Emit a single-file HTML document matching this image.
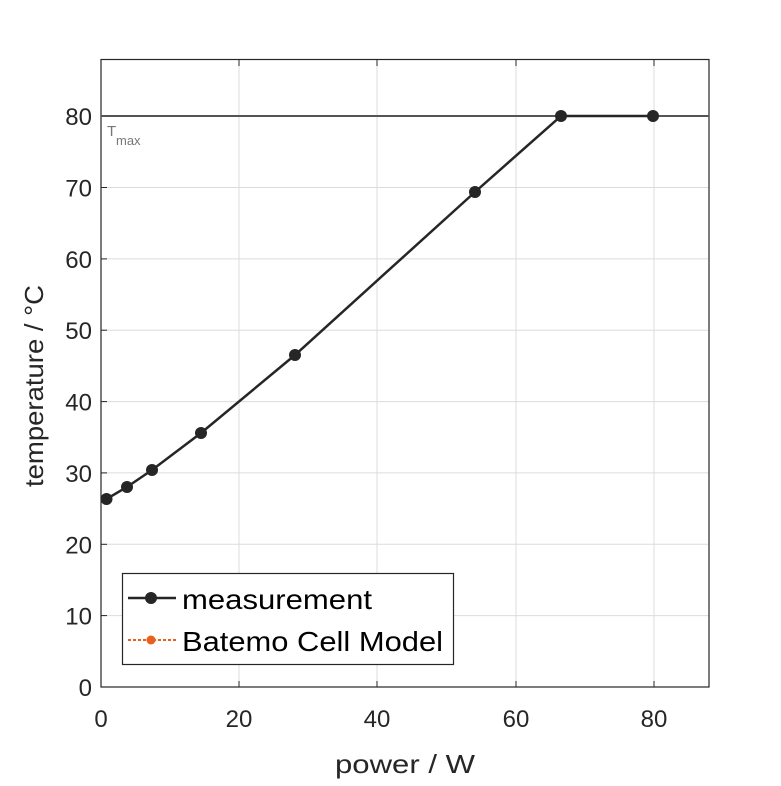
<!DOCTYPE html>
<html><head><meta charset="utf-8"><style>html,body{margin:0;padding:0;background:#fff}</style></head>
<body>
<svg width="781" height="781" viewBox="0 0 781 781" xmlns="http://www.w3.org/2000/svg" font-family="Liberation Sans, DejaVu Sans, sans-serif">
<rect width="781" height="781" fill="#fff"/>
<g stroke="#dcdcdc" stroke-width="1">
<line x1="239" y1="59" x2="239" y2="687"/><line x1="377" y1="59" x2="377" y2="687"/><line x1="516" y1="59" x2="516" y2="687"/><line x1="654" y1="59" x2="654" y2="687"/>
<line x1="101" y1="615.6" x2="709" y2="615.6"/><line x1="101" y1="544.3" x2="709" y2="544.3"/><line x1="101" y1="472.9" x2="709" y2="472.9"/><line x1="101" y1="401.6" x2="709" y2="401.6"/><line x1="101" y1="330.2" x2="709" y2="330.2"/><line x1="101" y1="258.9" x2="709" y2="258.9"/><line x1="101" y1="187.5" x2="709" y2="187.5"/>
</g>
<rect x="101" y="59.5" width="608" height="627.5" fill="none" stroke="#262626" stroke-width="1.2"/>
<g stroke="#262626" stroke-width="1">
<line x1="239" y1="687" x2="239" y2="681"/><line x1="377" y1="687" x2="377" y2="681"/><line x1="516" y1="687" x2="516" y2="681"/><line x1="654" y1="687" x2="654" y2="681"/>
<line x1="239" y1="60" x2="239" y2="66"/><line x1="377" y1="60" x2="377" y2="66"/><line x1="516" y1="60" x2="516" y2="66"/><line x1="654" y1="60" x2="654" y2="66"/>
<line x1="101" y1="615.6" x2="107" y2="615.6"/><line x1="101" y1="544.3" x2="107" y2="544.3"/><line x1="101" y1="472.9" x2="107" y2="472.9"/><line x1="101" y1="401.6" x2="107" y2="401.6"/><line x1="101" y1="330.2" x2="107" y2="330.2"/><line x1="101" y1="258.9" x2="107" y2="258.9"/><line x1="101" y1="187.5" x2="107" y2="187.5"/>
</g>
<line x1="101" y1="116" x2="709" y2="116" stroke="#555" stroke-width="2"/>
<text x="107" y="136" font-size="15" fill="#777">T</text><text x="116" y="145" font-size="13" fill="#777">max</text>
<polyline points="106.5,499 127,487 152,470 201,433 295,355 475,192 561,116 653,116" fill="none" stroke="#262626" stroke-width="2.5"/>
<g fill="#262626">
<circle cx="106.5" cy="499" r="6"/><circle cx="127" cy="487" r="6"/><circle cx="152" cy="470" r="6"/><circle cx="201" cy="433" r="6"/><circle cx="295" cy="355" r="6"/><circle cx="475" cy="192" r="6"/><circle cx="561" cy="116" r="6"/><circle cx="653" cy="116" r="6"/>
</g>
<g font-size="24" fill="#262626" text-anchor="middle">
<text x="101" y="727">0</text><text x="239" y="727">20</text><text x="377" y="727">40</text><text x="516" y="727">60</text><text x="654" y="727">80</text>
</g>
<g font-size="24" fill="#262626" text-anchor="end">
<text x="92" y="696">0</text><text x="92" y="624.6">10</text><text x="92" y="553.3">20</text><text x="92" y="481.9">30</text><text x="92" y="410.6">40</text><text x="92" y="339.2">50</text><text x="92" y="267.9">60</text><text x="92" y="196.5">70</text><text x="92" y="125">80</text>
</g>
<text x="335" y="773" font-size="26" fill="#262626" textLength="140" lengthAdjust="spacingAndGlyphs">power / W</text>
<text transform="translate(43,487) rotate(-90)" font-size="26" fill="#262626" textLength="202" lengthAdjust="spacingAndGlyphs">temperature / °C</text>
<rect x="122.5" y="573.5" width="331" height="91" fill="#fff" stroke="#262626" stroke-width="1.2"/>
<line x1="128" y1="598" x2="176" y2="598" stroke="#262626" stroke-width="2.5"/><circle cx="151" cy="598" r="6" fill="#262626"/>
<text x="182" y="609" font-size="28" fill="#000" textLength="190" lengthAdjust="spacingAndGlyphs">measurement</text>
<line x1="128" y1="640" x2="176" y2="640" stroke="#e8601c" stroke-width="2" stroke-dasharray="3,2"/><circle cx="151" cy="640" r="4.5" fill="#e8601c"/>
<text x="182" y="651" font-size="28" fill="#000" textLength="261" lengthAdjust="spacingAndGlyphs">Batemo Cell Model</text>
</svg>
</body></html>
